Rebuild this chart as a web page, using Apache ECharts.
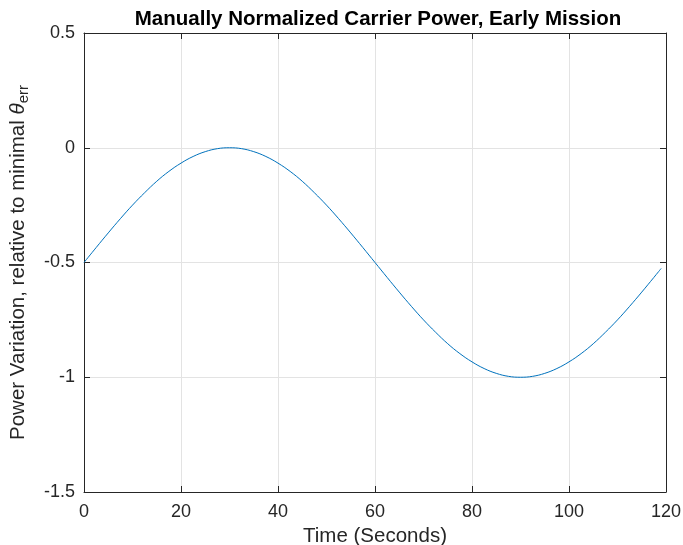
<!DOCTYPE html>
<html>
<head>
<meta charset="utf-8">
<script src="https://cdn.jsdelivr.net/npm/echarts@6/dist/echarts.min.js"></script>
<style>
  html, body { margin: 0; padding: 0; background: #fff; }
  #chart { width: 683px; height: 545px; }
</style>
</head>
<body>
<div id="chart"></div>
<script>
// Sampled carrier power over the first two minutes (seconds, relative power)
const timeSeconds = [0, 2.5, 5, 7.5, 10, 12.5, 15, 17.5, 20, 22.5, 25, 27.5, 30,
                     32.5, 35, 37.5, 40, 42.5, 45, 47.5, 50, 52.5, 55, 57.5, 60,
                     62.5, 65, 67.5, 70, 72.5, 75, 77.5, 80, 82.5, 85, 87.5, 90,
                     92.5, 95, 97.5, 100, 102.5, 105, 107.5, 110, 112.5, 115, 117.5, 119];
const powerVariation = [-0.5, -0.435, -0.371, -0.309, -0.25, -0.196, -0.146, -0.103, -0.067, -0.038, -0.017, -0.004, 0,
                        -0.004, -0.017, -0.038, -0.067, -0.103, -0.146, -0.196, -0.25, -0.309, -0.371, -0.435, -0.5,
                        -0.565, -0.629, -0.691, -0.75, -0.804, -0.854, -0.897, -0.933, -0.962, -0.983, -0.996, -1,
                        -0.996, -0.983, -0.962, -0.933, -0.897, -0.854, -0.804, -0.75, -0.691, -0.629, -0.565, -0.526];
const xTicks = [0, 20, 40, 60, 80, 100, 120];
const yTicks = [-1.5, -1, -0.5, 0, 0.5];

const axisColor = '#262626';
const gridColor = '#e3e3e3';
const font = 'Liberation Sans, Arial, Helvetica, sans-serif';

const chart = echarts.init(document.getElementById('chart'), null, { renderer: 'canvas' });

// Box edges on the top and right: line and inward ticks only
const boxAxis = {
  axisLine: { show: true, onZero: false, lineStyle: { color: axisColor, width: 1 } },
  axisTick: { show: true, inside: true, length: 6, lineStyle: { color: axisColor } },
  axisLabel: { show: false },
  splitLine: { show: false }
};

chart.setOption({
  animation: false,
  backgroundColor: '#ffffff',
  title: {
    text: 'Manually Normalized Carrier Power, Early Mission',
    left: 373, top: 4, textAlign: 'center',
    textStyle: { fontFamily: font, fontSize: 20.5, fontWeight: 'bold', color: '#000' }
  },
  grid: { left: 84, right: 17, top: 33, bottom: 53, containLabel: false, outerBoundsMode: 'none' },
  xAxis: [{
    type: 'value', min: xTicks[0], max: xTicks[xTicks.length - 1], interval: 20,
    name: 'Time (Seconds)', nameLocation: 'middle', nameGap: 29,
    nameTextStyle: { fontFamily: font, fontSize: 20.5, color: axisColor },
    axisLine: { show: true, onZero: false, lineStyle: { color: axisColor, width: 1 } },
    axisTick: { show: true, inside: true, length: 6, lineStyle: { color: axisColor } },
    axisLabel: { fontFamily: font, fontSize: 18, color: axisColor, margin: 11 },
    splitLine: { show: true, lineStyle: { color: gridColor, width: 1 } }
  }, Object.assign({
    type: 'value', position: 'top', min: xTicks[0], max: xTicks[xTicks.length - 1], interval: 20
  }, boxAxis)],
  yAxis: [{
    type: 'value', min: yTicks[0], max: yTicks[yTicks.length - 1], interval: 0.5,
    name: '{n|Power Variation, relative to minimal }{th|θ}{sub|err}',
    nameLocation: 'middle', nameGap: 53, nameRotate: 90,
    nameTextStyle: {
      fontFamily: font, fontSize: 20.5, color: axisColor,
      rich: {
        n: { fontFamily: font, fontSize: 20.5, color: axisColor },
        th: { fontFamily: font, fontSize: 20.5, fontStyle: 'italic', color: axisColor },
        sub: { fontFamily: font, fontSize: 15, color: axisColor, verticalAlign: 'bottom', padding: [10, 0, 0, 0] }
      }
    },
    axisLine: { show: true, onZero: false, lineStyle: { color: axisColor, width: 1 } },
    axisTick: { show: true, inside: true, length: 6, lineStyle: { color: axisColor } },
    axisLabel: { fontFamily: font, fontSize: 18, color: axisColor, margin: 9,
                 formatter: v => String(v) },
    splitLine: { show: true, lineStyle: { color: gridColor, width: 1 } }
  }, Object.assign({
    type: 'value', position: 'right', min: yTicks[0], max: yTicks[yTicks.length - 1], interval: 0.5
  }, boxAxis)],
  series: [{
    type: 'line',
    data: timeSeconds.map((t, i) => [t, powerVariation[i]]),
    smooth: 0.4,
    showSymbol: false,
    lineStyle: { color: '#0072BD', width: 1 },
    clip: true
  }]
});
</script>
</body>
</html>
